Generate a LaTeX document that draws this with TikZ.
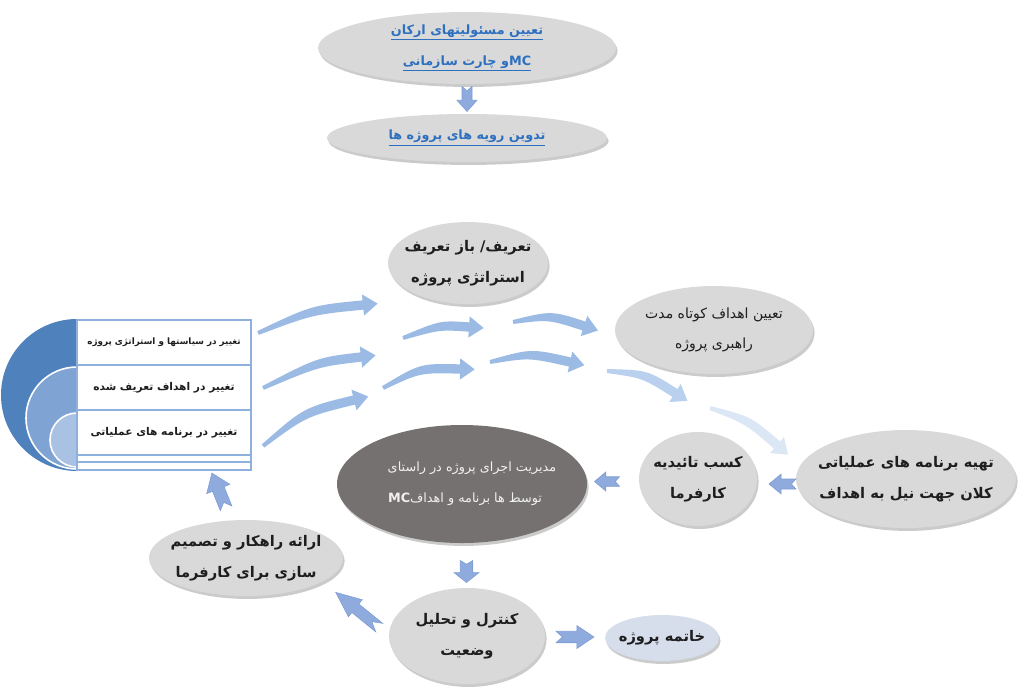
\documentclass[tikz,border=0pt]{standalone}
\usepackage{fontspec}
\newfontfamily\arabicfont[Script=Arabic]{DejaVu Sans}
\TeXXeTstate=1
\usetikzlibrary{calc,shapes.geometric,shadows}

\definecolor{ovalgray}{HTML}{D9D9D9}
\definecolor{ovaldark}{HTML}{767171}
\definecolor{ovalblue}{HTML}{D6DDEB}
\definecolor{linkblue}{HTML}{2E70C0}
\definecolor{ink}{HTML}{1E1E1E}
\definecolor{ringdark}{HTML}{4F81BD}
\definecolor{ringmid}{HTML}{7FA4D4}
\definecolor{ringlight}{HTML}{A9C2E4}
\definecolor{rowline}{HTML}{8DB0DD}
\definecolor{flowa}{HTML}{9BBBE4}
\definecolor{flowb}{HTML}{B9D0EE}
\definecolor{flowc}{HTML}{DCE7F6}
\definecolor{blockfill}{HTML}{8FAADC}
\definecolor{blockedge}{HTML}{7D9BD3}

\newdimen\px \px=0.75pt
% persian text, zero width so the oval keeps its own size
\newcommand{\fa}[1]{\makebox[0pt]{\arabicfont\beginR #1\endR}}
\newcommand{\ufa}[1]{\makebox[0pt]{\underline{\arabicfont\beginR #1\endR}}}
% curved flow arrow: tail, bend, head base
\newcommand{\bentarrow}[4][flowa]{%
  \fill[#1] ($(#2)!1.5pt!90:(#3)$) .. controls ($(#3)!3.5pt!90:(#4)$) .. ($(#4)!3.5pt!-90:(#3)$)
    -- ($(#4)!8pt!-90:(#3)$) -- ($(#4)!-11pt!(#3)$) -- ($(#4)!8pt!90:(#3)$)
    -- ($(#4)!3.5pt!90:(#3)$) .. controls ($(#3)!3.5pt!-90:(#4)$) .. ($(#2)!1.5pt!-90:(#3)$) -- cycle;}

\tikzset{notched/.pic={
  \path[fill=blockfill, draw=blockedge, line width=0.4pt]
    (-0.5,-0.25) -- (0.05,-0.25) -- (0.05,-0.5) -- (0.5,0) -- (0.05,0.5)
    -- (0.05,0.25) -- (-0.5,0.25) -- (-0.33,0) -- cycle;}}

\begin{document}
\begin{tikzpicture}[x=0.75pt,y=-0.75pt,
    oval/.style={ellipse, fill=ovalgray, inner sep=0pt, align=center, text=ink,
      drop shadow={shadow xshift=1.2pt, shadow yshift=-2.2pt, fill=black!45, opacity=.45},
      font=\fontsize{11}{23}\selectfont\bfseries},
    darkoval/.style={oval, fill=ovaldark, text=white!94!black,
      font=\fontsize{9.6}{23}\selectfont},
    linkoval/.style={oval, text=linkblue, font=\fontsize{9.6}{23}\selectfont\bfseries},
    row/.style={rectangle, draw=rowline, fill=white, line width=0.8pt,
      minimum width=174\px, inner sep=0pt, text=ink,
      font=\fontsize{8}{10}\selectfont\bfseries}
  ]
  \useasboundingbox (0,0) rectangle (1024,694);

  % top
  \node[linkoval, minimum width=298\px, minimum height=72\px] (duty) at (467,48)
    {\ufa{تعیین مسئولیتهای ارکان}\\\ufa{\beginL MC\endL و چارت سازمانی}};
  \node[linkoval, minimum width=280\px, minimum height=48\px] (proc) at (467,138)
    {\ufa{تدوین رویه های پروژه ها}};
  \pic[rotate=-90, xscale=25, yscale=20] at ($(duty.south)!0.5!(proc.north)$) {notched};

  % left target
  \fill[ringdark] (77,395) circle[radius=57pt];
  \draw[white, line width=1.2pt, fill=ringmid] (77,418) circle[radius=38.25pt];
  \draw[white, line width=1.2pt, fill=ringlight] (77,440) circle[radius=20.25pt];
  \node[row, minimum height=45\px, font=\fontsize{6.6}{10}\selectfont\bfseries] (row1) at (164,342.5)
    {\fa{تغییر در سیاستها و استراتژی پروژه}};
  \node[row, minimum height=45\px] (row2) at (164,387.5) {\fa{تغییر در اهداف تعریف شده}};
  \node[row, minimum height=45\px] (row3) at (164,432.5) {\fa{تغییر در برنامه های عملیاتی}};
  \node[row, minimum height=7\px] (row4) at (164,458.5) {};
  \node[row, minimum height=8\px] (row5) at (164,466) {};

  % ovals
  \node[oval, minimum width=160\px, minimum height=82\px] (strat) at (468,263)
    {\fa{تعریف/ باز تعریف}\\\fa{استراتژی پروژه}};
  \node[oval, minimum width=198\px, minimum height=88\px, font=\fontsize{10.5}{23}\selectfont] (short) at (714,330)
    {\fa{تعیین اهداف کوتاه مدت}\\\fa{راهبری پروژه}};
  \node[oval, minimum width=220\px, minimum height=98\px] (plan) at (906,479)
    {\fa{تهیه برنامه های عملیاتی}\\\fa{کلان جهت نیل به اهداف}};
  \node[oval, minimum width=118\px, minimum height=94\px] (approve) at (698,479)
    {\fa{کسب تائیدیه}\\\fa{کارفرما}};
  \node[darkoval, minimum width=250\px, minimum height=118\px] (mgmt) at (462,484)
    {\hspace*{20\px}\fa{مدیریت اجرای پروژه در راستای}\\
     \hspace*{6\px}\fa{توسط  ها برنامه و اهداف\beginL{\bfseries MC}\endL}};
  \node[oval, minimum width=156\px, minimum height=96\px] (ctrl) at (467,636)
    {\fa{کنترل و تحلیل}\\\fa{وضعیت}};
  \node[oval, fill=ovalblue, minimum width=114\px, minimum height=46\px] (finish) at (662,638)
    {\fa{خاتمه پروژه}};
  \node[oval, minimum width=194\px, minimum height=76\px] (advice) at (246,558)
    {\fa{ارائه راهکار و تصمیم}\\\fa{سازی برای کارفرما}};

  % curved flows
  \bentarrow{258,333}{312,310}{363,305}
  \bentarrow{263,388}{318,362}{361,357}
  \bentarrow{263,446}{305,412}{354,400}
  \bentarrow{403,338}{440,325}{469,327}
  \bentarrow{383,388}{420,368}{460,369}
  \bentarrow{513,322}{550,315}{584,326}
  \bentarrow{490,362}{530,353}{570,362}
  \bentarrow[flowb]{607,371}{645,374}{675,393}
  \bentarrow[flowc]{710,408}{748,420}{777,445}

  % block arrows
  \pic[rotate=180, xscale=27, yscale=20] at ($(approve.east)!0.5!(plan.west)+(6,5)$) {notched};
  \pic[rotate=180, xscale=25, yscale=19] at ($(mgmt.east)!0.5!(approve.west)+(-6,0)$) {notched};
  \pic[rotate=-90, xscale=22, yscale=25] at ($(mgmt.south)!0.5!(ctrl.north)+(2,6)$) {notched};
  \pic[xscale=38, yscale=23] at ($(ctrl.east)!0.5!(finish.west)$) {notched};
  \pic[rotate=141, xscale=56, yscale=22] at ($(ctrl)!0.5!(advice)+(1,13)$) {notched};
  \pic[rotate=112, xscale=38, yscale=25] at ($(advice.north)+(-27,-29)$) {notched};
\end{tikzpicture}
\end{document}
